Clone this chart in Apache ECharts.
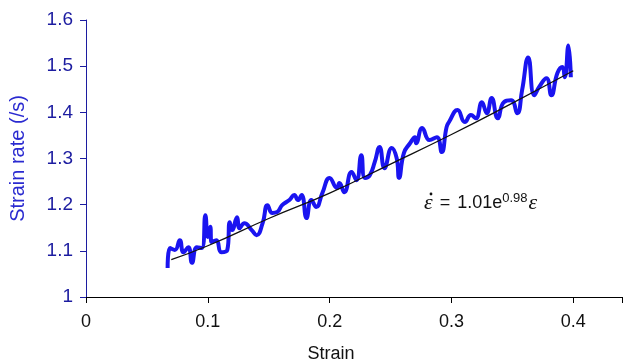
<!DOCTYPE html>
<html><head><meta charset="utf-8">
<script src="https://cdn.jsdelivr.net/npm/echarts@6/dist/echarts.min.js"></script>
<style>html,body{margin:0;padding:0;background:#fff}#c{width:625px;height:364px}</style>
</head><body><div id="c"></div>
<script>
const strain = [0.067,0.069,0.073,0.077,0.080,0.084,0.087,0.091,0.095,0.098,0.100,0.102,0.103,0.107,0.111,0.116,0.118,0.120,0.124,0.126,0.130,0.136,0.140,0.145,0.149,0.153,0.157,0.161,0.167,0.171,0.174,0.177,0.181,0.185,0.189,0.194,0.200,0.206,0.208,0.212,0.218,0.222,0.226,0.229,0.233,0.237,0.241,0.245,0.251,0.255,0.257,0.261,0.266,0.270,0.271,0.276,0.282,0.288,0.292,0.296,0.298,0.305,0.311,0.316,0.320,0.325,0.329,0.333,0.338,0.343,0.349,0.354,0.358,0.363,0.368,0.372,0.378,0.382,0.387,0.391,0.393,0.396,0.398];
const strainRate = [1.063,1.106,1.102,1.123,1.097,1.108,1.074,1.108,1.106,1.177,1.130,1.152,1.119,1.123,1.097,1.102,1.162,1.145,1.173,1.149,1.160,1.145,1.134,1.160,1.199,1.182,1.184,1.199,1.210,1.221,1.210,1.221,1.171,1.210,1.195,1.225,1.258,1.236,1.247,1.227,1.271,1.253,1.307,1.258,1.264,1.292,1.325,1.279,1.323,1.301,1.258,1.312,1.333,1.346,1.333,1.366,1.340,1.346,1.314,1.368,1.379,1.405,1.379,1.394,1.387,1.422,1.398,1.431,1.387,1.422,1.426,1.398,1.448,1.519,1.437,1.455,1.474,1.437,1.485,1.498,1.476,1.545,1.476];
const fitStrain = [0.07,0.10,0.15,0.20,0.25,0.30,0.35,0.40];
const fitRate = [1.081,1.111,1.170,1.225,1.288,1.352,1.420,1.490];
const xTicks = [0,0.1,0.2,0.3,0.4];
const yTicks = [1,1.1,1.2,1.3,1.4,1.5,1.6];

const chart = echarts.init(document.getElementById('c'), null, {renderer:'canvas'});
const ff = '"Liberation Sans", Arial, sans-serif';
const sf = '"Liberation Serif","DejaVu Serif",serif';
chart.setOption({
  animation:false,
  grid:{left:86,top:20,right:3,bottom:67,containLabel:false,outerBoundsMode:'none'},
  xAxis:{type:'value',min:0,max:0.44,interval:0.1,
    name:'Strain',nameLocation:'middle',nameGap:48,
    nameTextStyle:{color:'#111',fontSize:18,fontFamily:ff,padding:[0,46,0,0]},
    axisLine:{show:true,onZero:false,lineStyle:{color:'#000',width:1}},
    axisTick:{show:true,length:6,lineStyle:{color:'#000'}},
    axisLabel:{color:'#111',fontSize:18,fontFamily:ff,margin:16,
      formatter:v=>xTicks.includes(+v.toFixed(2))?String(+v.toFixed(2)):''},
    splitLine:{show:false}},
  yAxis:{type:'value',min:1,max:1.6,interval:0.1,
    name:'Strain rate (/s)',nameLocation:'middle',nameGap:58,
    nameTextStyle:{color:'#2a2ad0',fontSize:20,fontFamily:ff},
    axisLine:{show:true,lineStyle:{color:'#1c1ca0',width:1}},
    axisTick:{show:true,length:6,lineStyle:{color:'#1c1ca0'}},
    axisLabel:{color:'#1c1ca0',fontSize:19,fontFamily:ff,margin:13,
      formatter:v=>yTicks.includes(+v.toFixed(1))?String(+v.toFixed(1)):''},
    splitLine:{show:false}},
  series:[
    {type:'line',data:strain.map((x,i)=>[x,strainRate[i]]),smooth:0.5,showSymbol:false,
      lineStyle:{color:'#1a14f0',width:4},z:2},
    {type:'line',data:fitStrain.map((x,i)=>[x,fitRate[i]]),smooth:true,showSymbol:false,
      lineStyle:{color:'#111',width:1.3},z:3}
  ],
  graphic:[
    {type:'text',left:424,top:192,
      style:{rich:{
        e:{fontFamily:sf,fontStyle:'italic',fontSize:22,fill:'#111'},
        m:{fontFamily:ff,fontSize:18,fill:'#111',padding:[0,7,0,7]},
        n:{fontFamily:ff,fontSize:18,fill:'#111'},
        s:{fontFamily:ff,fontSize:13,fill:'#111',verticalAlign:'top',padding:[0,1,10,0]}
      },text:'{e|ε}{m|=}{n|1.01e}{s|0.98}{e|ε}'}},
    {type:'circle',shape:{cx:431,cy:194,r:1.4},style:{fill:'#111'}}
  ]
});
</script></body></html>
